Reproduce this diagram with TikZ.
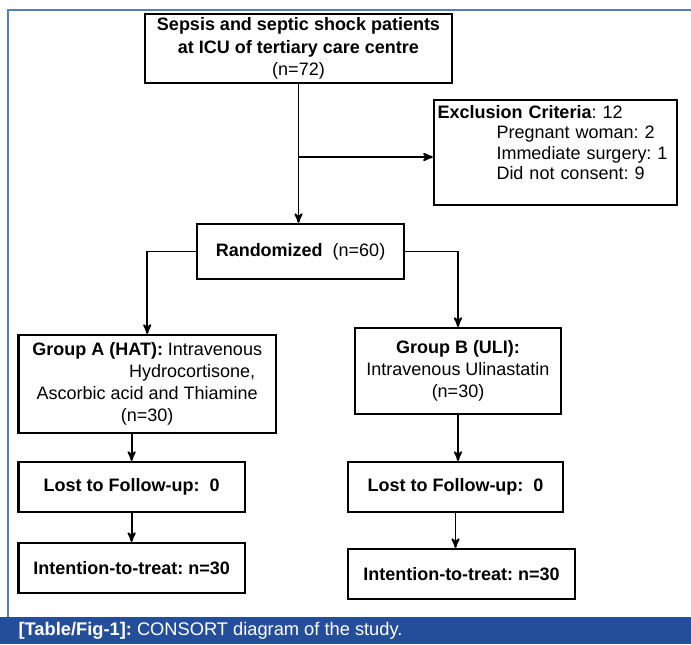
\documentclass[tikz,border=0pt]{standalone}
\usepackage{fontspec}
\setmainfont{Liberation Sans}
\usetikzlibrary{arrows}
\definecolor{capblue}{RGB}{37,78,154}
\definecolor{rimblue}{RGB}{84,125,192}
\tikzset{
    every node/.style={
        font=\fontsize{12.8}{15.8}\selectfont},
    box/.style={
        draw,
        line width=1.6pt,
        align=center,
        inner sep=0pt},
    flow/.style={
        draw,
        ->,>=stealth',
        line width=1.35pt}}

\begin{document}
\frenchspacing
\begin{tikzpicture}
        \useasboundingbox (0,0) rectangle (17.275,-16.1);
        \draw[rimblue,line width=1.4pt] (0.2,-15.425) -- (0.2,-0.25) -- (17.275,-0.25);
        \fill[capblue] (0,-15.425) rectangle (17.275,-16.1);

        \node[box,minimum width=7.675cm,minimum height=1.725cm] (sepsis) at (7.4625,-1.2125)
            {\textbf{Sepsis and septic shock patients}\\\textbf{at ICU of tertiary care centre}\\(n=72)};
        \node[box,minimum width=6.075cm,minimum height=2.625cm,align=left,text width=5.9cm,inner xsep=0.09cm,
              font=\fontsize{12.8}{14.6}\selectfont] (excl) at (13.8875,-3.8125)
            {\textbf{Exclusion Criteria}: 12\\
             \hspace*{1.475cm}Pregnant woman: 2\\
             \hspace*{1.475cm}Immediate surgery: 1\\
             \hspace*{1.475cm}Did not consent: 9\rule[-14pt]{0pt}{14pt}};
        \node[box,minimum width=5.175cm,minimum height=1.375cm] (rand) at (7.5125,-6.2875)
            {\textbf{Randomized}\ \ (n=60)};
        \node[box,minimum width=6.44cm,minimum height=2.45cm] (grpA) at (3.68,-9.6)
            {\textbf{Group A (HAT):} Intravenous\\\hspace*{2.25cm}Hydrocortisone,\\Ascorbic acid and Thiamine\\(n=30)};
        \node[box,minimum width=5.15cm,minimum height=2.15cm] (grpB) at (11.45,-9.275)
            {\textbf{Group B (ULI):}\\Intravenous Ulinastatin\\(n=30)};
        \node[box,minimum width=5.66cm,minimum height=1.25cm] (lostA) at (3.29,-12.175)
            {\textbf{Lost to Follow-up:\ \ 0}};
        \node[box,minimum width=5.375cm,minimum height=1.25cm] (lostB) at (11.3875,-12.175)
            {\textbf{Lost to Follow-up:\ \ 0}};
        \node[box,minimum width=5.66cm,minimum height=1.25cm] (ittA) at (3.29,-14.2)
            {\textbf{Intention-to-treat: n=30}};
        \node[box,minimum width=5.675cm,minimum height=1.25cm] (ittB) at (11.5375,-14.35)
            {\textbf{Intention-to-treat: n=30}};

        \coordinate (split) at (sepsis.south |- 0,-3.925);
        \draw[flow] (sepsis.south) -- (sepsis.south |- rand.north);
        \draw[flow] (split) -- (split -| excl.west);
        \draw[flow] (rand.west) -| (grpA.north);
        \draw[flow] (rand.east) -| (grpB.north);
        \draw[flow] (lostA.north |- grpA.south) -- (lostA.north);
        \draw[flow] (grpB.south) -- (grpB.south |- lostB.north);
        \draw[flow] (lostA.south) -- (ittA.north);
        \draw[flow] (lostB.south) -- (lostB.south |- ittB.north);

        \node[anchor=west,text=white,font=\fontsize{13}{15}\selectfont] (caption) at (0.34,-15.76)
            {\textbf{[Table/Fig-1]:} CONSORT diagram of the study.};
    \end{tikzpicture}
\end{document}
